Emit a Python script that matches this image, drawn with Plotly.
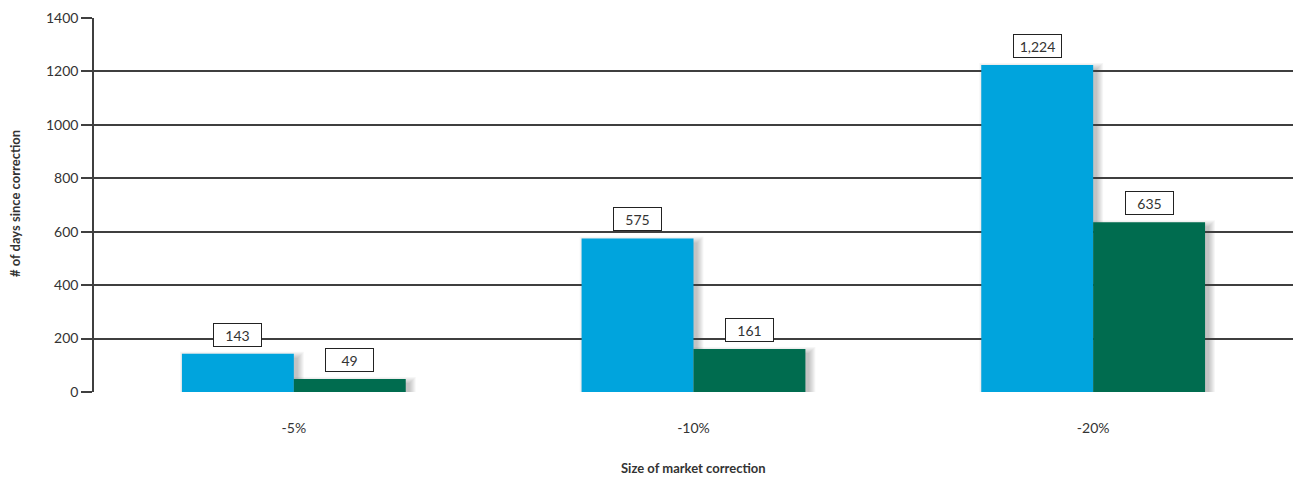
import plotly.graph_objects as go

categories = ["-5%", "-10%", "-20%"]
series_a = [143, 575, 1224]
series_b = [49, 161, 635]
y_ticks = [0, 200, 400, 600, 800, 1000, 1200, 1400]
x_title = "Size of market correction"
y_title = "# of days since correction"

BLUE = "#00A4DD"
GREEN = "#006C4F"
FONT = "Lato"
TXT = "#333333"
GRID = "#3f3f3f"

fig = go.Figure()
fig.add_trace(go.Bar(x=categories, y=series_a, marker=dict(color=BLUE, line=dict(width=0)), name="A"))
fig.add_trace(go.Bar(x=categories, y=series_b, marker=dict(color=GREEN, line=dict(width=0)), name="B"))

# soft drop shadows (layered, low opacity) -- px converted to data units
half = 0.28
PX_X = 3.0 / 1200.0     # category units per pixel
PX_Y = 1400.0 / 374.0   # value units per pixel
shapes = []
for i, (a, b) in enumerate(zip(series_a, series_b)):
    for x0, x1, v in [(i - half, i, a), (i, i + half, b)]:
        for j in range(7):
            shapes.append(dict(type="rect", xref="x", yref="y", layer="below",
                               x0=x0 + (4 - j) * PX_X, x1=x1 + (4 + j) * PX_X,
                               y0=-(4 + j) * PX_Y, y1=v - (4 - j) * PX_Y,
                               fillcolor="black", opacity=0.035, line=dict(width=0)))

annotations = []
for i, (a, b) in enumerate(zip(series_a, series_b)):
    for off, v in [(-half / 2, a), (half / 2, b)]:
        annotations.append(dict(x=i + off, y=v, xref="x", yref="y", text=f"{v:,}",
                                showarrow=False, yanchor="bottom", yshift=7,
                                bgcolor="white", bordercolor="#222222", borderwidth=1,
                                borderpad=3, width=41, height=16,
                                font=dict(family=FONT, size=14, color=TXT)))
annotations.append(dict(x=0.5, y=-0.203, xref="paper", yref="paper", text=f"<b>{x_title}</b>",
                        showarrow=False, xanchor="center", yanchor="middle",
                        font=dict(family=FONT, size=13, color=TXT)))
annotations.append(dict(x=-0.066, y=0.505, xref="paper", yref="paper", text=f"<b>{y_title}</b>",
                        showarrow=False, xanchor="center", yanchor="middle", textangle=-90,
                        font=dict(family=FONT, size=13, color=TXT)))

fig.update_layout(
    width=1293, height=478,
    margin=dict(l=94, r=0, t=18, b=86),
    paper_bgcolor="white", plot_bgcolor="white",
    barmode="group", bargap=0.44, bargroupgap=0,
    showlegend=False,
    shapes=shapes, annotations=annotations,
    font=dict(family=FONT, color=TXT),
    xaxis=dict(showgrid=False, showline=False, ticks="", ticklabelstandoff=26,
               tickfont=dict(size=14, color=TXT)),
    yaxis=dict(range=[0, 1400], tickvals=y_ticks, showgrid=True, gridcolor=GRID, gridwidth=1.6,
               showline=True, linecolor=GRID, linewidth=1.6, zeroline=False,
               ticks="outside", ticklen=11, tickcolor=GRID, tickwidth=1.6,
               tickfont=dict(size=14, color=TXT)),
)

fig.write_html("out.html")
